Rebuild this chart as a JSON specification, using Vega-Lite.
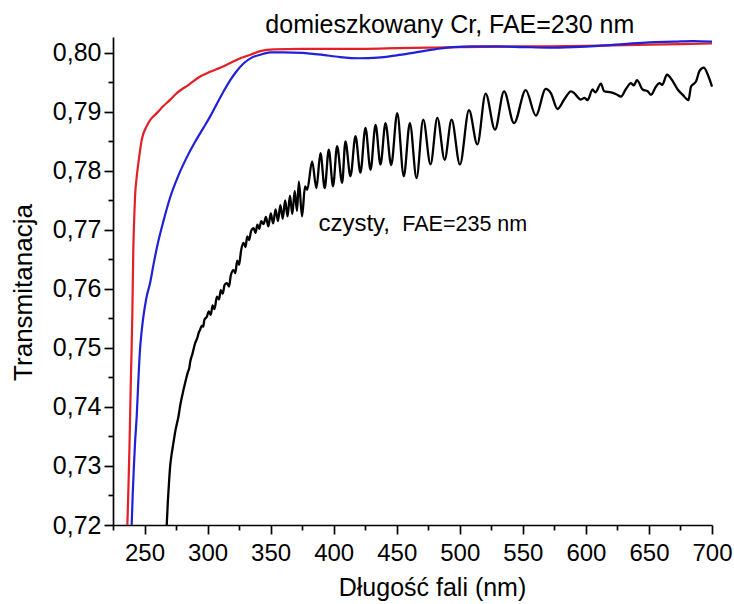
{
  "$schema": "https://vega.github.io/schema/vega-lite/v6.json",
  "width": 599,
  "height": 488,
  "autosize": {"type": "none"},
  "padding": {"left": 113, "top": 37, "right": 22, "bottom": 79},
  "background": "white",
  "config": {
    "view": {"stroke": null},
    "font": "Liberation Sans",
    "text": {"font": "Liberation Sans", "color": "#000"},
    "axis": {
      "grid": false,
      "domainColor": "#000",
      "domainWidth": 1.7,
      "tickColor": "#000",
      "tickWidth": 1.7,
      "labelFont": "Liberation Sans",
      "labelColor": "#000",
      "labelFlush": false,
      "labelOverlap": false,
      "titleFont": "Liberation Sans",
      "titleFontWeight": "normal",
      "titleColor": "#000"
    }
  },
  "datasets": {
    "dom_red": [
      {"x": 236.4, "y": 0.7200}, {"x": 237.2, "y": 0.7260}, {"x": 238.0, "y": 0.7327}, {"x": 239.1, "y": 0.7440},
      {"x": 240.3, "y": 0.7553}, {"x": 241.1, "y": 0.7666}, {"x": 242.0, "y": 0.7730}, {"x": 242.5, "y": 0.7757},
      {"x": 243.8, "y": 0.7790}, {"x": 245.1, "y": 0.7813}, {"x": 247.8, "y": 0.7853}, {"x": 251.7, "y": 0.7876},
      {"x": 255.0, "y": 0.7888}, {"x": 259.7, "y": 0.7898}, {"x": 265.0, "y": 0.7910}, {"x": 270.0, "y": 0.7920},
      {"x": 275.6, "y": 0.7932}, {"x": 285.0, "y": 0.7946}, {"x": 294.1, "y": 0.7960}, {"x": 302.0, "y": 0.7968},
      {"x": 310.0, "y": 0.7975}, {"x": 318.0, "y": 0.7983}, {"x": 325.9, "y": 0.7991}, {"x": 334.0, "y": 0.7997},
      {"x": 341.8, "y": 0.8003}, {"x": 352.4, "y": 0.8006}, {"x": 375.0, "y": 0.8007}, {"x": 400.0, "y": 0.8007},
      {"x": 425.0, "y": 0.8007}, {"x": 450.0, "y": 0.8008}, {"x": 475.0, "y": 0.8009}, {"x": 500.0, "y": 0.8010},
      {"x": 550.0, "y": 0.8011}, {"x": 600.0, "y": 0.8012}, {"x": 650.0, "y": 0.8014}, {"x": 700.0, "y": 0.8016}
    ],
    "dom_blue": [
      {"x": 239.8, "y": 0.7200}, {"x": 240.6, "y": 0.7250}, {"x": 241.6, "y": 0.7300}, {"x": 242.5, "y": 0.7340},
      {"x": 243.8, "y": 0.7384}, {"x": 245.0, "y": 0.7440}, {"x": 246.4, "y": 0.7497}, {"x": 247.8, "y": 0.7530},
      {"x": 249.1, "y": 0.7553}, {"x": 251.5, "y": 0.7585}, {"x": 254.4, "y": 0.7610}, {"x": 257.0, "y": 0.7640},
      {"x": 259.7, "y": 0.7669}, {"x": 265.0, "y": 0.7715}, {"x": 270.3, "y": 0.7755}, {"x": 277.0, "y": 0.7793},
      {"x": 283.5, "y": 0.7823}, {"x": 290.0, "y": 0.7849}, {"x": 296.7, "y": 0.7873}, {"x": 302.0, "y": 0.7892},
      {"x": 307.4, "y": 0.7914}, {"x": 313.0, "y": 0.7936}, {"x": 318.0, "y": 0.7954}, {"x": 323.0, "y": 0.7969},
      {"x": 328.5, "y": 0.7982}, {"x": 335.0, "y": 0.7992}, {"x": 341.8, "y": 0.7997}, {"x": 349.7, "y": 0.8001},
      {"x": 360.0, "y": 0.8001}, {"x": 375.0, "y": 0.8000}, {"x": 390.0, "y": 0.7997}, {"x": 405.0, "y": 0.7993},
      {"x": 420.0, "y": 0.7991}, {"x": 435.0, "y": 0.7992}, {"x": 450.0, "y": 0.7996}, {"x": 465.0, "y": 0.8001},
      {"x": 480.0, "y": 0.8006}, {"x": 495.0, "y": 0.8010}, {"x": 510.0, "y": 0.8011}, {"x": 530.0, "y": 0.8011},
      {"x": 550.0, "y": 0.8010}, {"x": 570.0, "y": 0.8009}, {"x": 590.0, "y": 0.8010}, {"x": 610.0, "y": 0.8012},
      {"x": 630.0, "y": 0.8015}, {"x": 650.0, "y": 0.8018}, {"x": 670.0, "y": 0.8019}, {"x": 685.0, "y": 0.8020},
      {"x": 700.0, "y": 0.8019}
    ],
    "czysty": [
      {"x": 267.6, "y": 0.7200}, {"x": 268.5, "y": 0.7240}, {"x": 269.5, "y": 0.7275}, {"x": 270.3, "y": 0.7299},
      {"x": 271.5, "y": 0.7320}, {"x": 272.9, "y": 0.7339}, {"x": 274.5, "y": 0.7360}, {"x": 276.9, "y": 0.7384},
      {"x": 278.5, "y": 0.7405}, {"x": 280.9, "y": 0.7429}, {"x": 283.0, "y": 0.7448}, {"x": 284.5, "y": 0.7460},
      {"x": 285.5, "y": 0.7466}, {"x": 286.2, "y": 0.7476}, {"x": 288.0, "y": 0.7490}, {"x": 290.1, "y": 0.7508},
      {"x": 292.0, "y": 0.7518}, {"x": 293.0, "y": 0.7526}, {"x": 294.1, "y": 0.7531}, {"x": 295.5, "y": 0.7538},
      {"x": 296.5, "y": 0.7536}, {"x": 297.5, "y": 0.7548}, {"x": 299.4, "y": 0.7553}, {"x": 301.0, "y": 0.7562},
      {"x": 302.5, "y": 0.7556}, {"x": 304.0, "y": 0.7572}, {"x": 305.5, "y": 0.7566}, {"x": 307.4, "y": 0.7587},
      {"x": 309.0, "y": 0.7582}, {"x": 310.5, "y": 0.7598}, {"x": 312.0, "y": 0.7592}, {"x": 313.5, "y": 0.7607},
      {"x": 315.3, "y": 0.7610}, {"x": 317.0, "y": 0.7604}, {"x": 318.5, "y": 0.7624}, {"x": 320.6, "y": 0.7632},
      {"x": 322.0, "y": 0.7627}, {"x": 323.5, "y": 0.7648}, {"x": 325.0, "y": 0.7641}, {"x": 326.5, "y": 0.7664},
      {"x": 328.5, "y": 0.7678}, {"x": 330.0, "y": 0.7671}, {"x": 331.5, "y": 0.7689}, {"x": 333.0, "y": 0.7683},
      {"x": 334.5, "y": 0.7698}, {"x": 336.5, "y": 0.7703}, {"x": 338.0, "y": 0.7695}, {"x": 339.5, "y": 0.7709},
      {"x": 341.0, "y": 0.7702}, {"x": 342.5, "y": 0.7715}, {"x": 344.4, "y": 0.7710},
      {"x": 346.3, "y": 0.7722}, {"x": 348.2, "y": 0.7706}, {"x": 350.1, "y": 0.7728}, {"x": 352.0, "y": 0.7711},
      {"x": 353.9, "y": 0.7735}, {"x": 355.8, "y": 0.7715}, {"x": 357.7, "y": 0.7742}, {"x": 359.6, "y": 0.7719},
      {"x": 361.5, "y": 0.7750}, {"x": 363.4, "y": 0.7723}, {"x": 365.3, "y": 0.7758}, {"x": 367.2, "y": 0.7727},
      {"x": 369.1, "y": 0.7766}, {"x": 370.9, "y": 0.7732}, {"x": 372.4, "y": 0.7782}, {"x": 374.9, "y": 0.7723},
      {"x": 377.3, "y": 0.7774}, {"x": 379.0, "y": 0.7768}, {"x": 382.9, "y": 0.7816},
      {"x": 386.3, "y": 0.7771}, {"x": 389.5, "y": 0.7830}, {"x": 392.9, "y": 0.7771}, {"x": 396.1, "y": 0.7836},
      {"x": 399.5, "y": 0.7774}, {"x": 402.7, "y": 0.7842}, {"x": 406.7, "y": 0.7780}, {"x": 409.3, "y": 0.7850},
      {"x": 413.3, "y": 0.7791}, {"x": 417.3, "y": 0.7859}, {"x": 421.2, "y": 0.7797}, {"x": 425.2, "y": 0.7873},
      {"x": 429.2, "y": 0.7802}, {"x": 433.2, "y": 0.7878}, {"x": 437.1, "y": 0.7811}, {"x": 441.1, "y": 0.7881},
      {"x": 445.6, "y": 0.7810}, {"x": 450.4, "y": 0.7898}, {"x": 455.6, "y": 0.7791}, {"x": 460.4, "y": 0.7881},
      {"x": 465.7, "y": 0.7788}, {"x": 471.0, "y": 0.7887}, {"x": 476.8, "y": 0.7811}, {"x": 482.2, "y": 0.7890},
      {"x": 488.0, "y": 0.7819}, {"x": 493.5, "y": 0.7887}, {"x": 500.1, "y": 0.7811}, {"x": 507.3, "y": 0.7903},
      {"x": 513.9, "y": 0.7845}, {"x": 520.5, "y": 0.7931}, {"x": 527.9, "y": 0.7870}, {"x": 535.1, "y": 0.7935},
      {"x": 543.0, "y": 0.7881}, {"x": 552.3, "y": 0.7937}, {"x": 560.3, "y": 0.7894}, {"x": 568.2, "y": 0.7939},
      {"x": 572.2, "y": 0.7932}, {"x": 577.5, "y": 0.7905}, {"x": 582.8, "y": 0.7921}, {"x": 588.1, "y": 0.7935},
      {"x": 590.7, "y": 0.7932}, {"x": 594.0, "y": 0.7924}, {"x": 596.0, "y": 0.7921}, {"x": 599.0, "y": 0.7924},
      {"x": 601.3, "y": 0.7920}, {"x": 605.3, "y": 0.7938}, {"x": 607.5, "y": 0.7933}, {"x": 611.9, "y": 0.7948},
      {"x": 614.5, "y": 0.7935}, {"x": 619.9, "y": 0.7933}, {"x": 624.0, "y": 0.7930}, {"x": 627.8, "y": 0.7926},
      {"x": 631.8, "y": 0.7939}, {"x": 635.7, "y": 0.7949}, {"x": 638.0, "y": 0.7945}, {"x": 640.5, "y": 0.7954},
      {"x": 645.0, "y": 0.7938}, {"x": 649.0, "y": 0.7935}, {"x": 651.6, "y": 0.7929}, {"x": 655.6, "y": 0.7943},
      {"x": 658.2, "y": 0.7949}, {"x": 660.5, "y": 0.7946}, {"x": 664.3, "y": 0.7963}, {"x": 668.9, "y": 0.7952},
      {"x": 672.8, "y": 0.7938}, {"x": 676.8, "y": 0.7929}, {"x": 681.3, "y": 0.7920}, {"x": 683.4, "y": 0.7943},
      {"x": 687.4, "y": 0.7952}, {"x": 690.0, "y": 0.7969}, {"x": 693.5, "y": 0.7975}, {"x": 696.7, "y": 0.7963},
      {"x": 700.0, "y": 0.7943}
    ]
  },
  "resolve": {"axis": {"x": "independent", "y": "independent"}},
  "layer": [
    {
      "data": {"name": "dom_red"},
      "mark": {"type": "line", "color": "#e41f26", "strokeWidth": 2.2, "interpolate": "monotone"},
      "encoding": {
        "x": {
          "field": "x",
          "type": "quantitative",
          "scale": {"domain": [225, 700], "nice": false, "zero": false},
          "axis": {
            "orient": "bottom",
            "values": [250, 300, 350, 400, 450, 500, 550, 600, 650, 700],
            "title": "Długość fali (nm)",
            "tickSize": 9,
            "labelFontSize": 24,
            "labelPadding": 7,
            "titleFontSize": 25,
            "titleX": 319,
            "titleY": 70,
            "titleBaseline": "alphabetic",
            "titleAlign": "center"
          }
        },
        "y": {
          "field": "y",
          "type": "quantitative",
          "scale": {"domain": [0.72, 0.8027], "nice": false, "zero": false},
          "axis": {
            "orient": "left",
            "values": [0.72, 0.73, 0.74, 0.75, 0.76, 0.77, 0.78, 0.79, 0.80],
            "labelExpr": "replace(format(datum.value, '.2f'), '.', ',')",
            "title": "Transmitanacja",
            "tickSize": 9,
            "labelFontSize": 25,
            "labelPadding": 3,
            "titleFontSize": 26,
            "titleX": -82,
            "titleY": 255,
            "titleBaseline": "alphabetic",
            "titleAlign": "center"
          }
        }
      }
    },
    {
      "data": {"name": "dom_blue"},
      "mark": {"type": "line", "color": "#2020d8", "strokeWidth": 2.2, "interpolate": "monotone"},
      "encoding": {
        "x": {
          "field": "x",
          "type": "quantitative",
          "scale": {"domain": [225, 700], "nice": false, "zero": false},
          "axis": {
            "orient": "bottom",
            "values": [225, 275, 325, 375, 425, 475, 525, 575, 625, 675],
            "title": null,
            "labels": false,
            "domain": false,
            "tickSize": 5
          }
        },
        "y": {
          "field": "y",
          "type": "quantitative",
          "scale": {"domain": [0.72, 0.8027], "nice": false, "zero": false},
          "axis": {
            "orient": "left",
            "values": [0.725, 0.735, 0.745, 0.755, 0.765, 0.775, 0.785, 0.795],
            "title": null,
            "labels": false,
            "domain": false,
            "tickSize": 5
          }
        }
      }
    },
    {
      "data": {"name": "czysty"},
      "mark": {"type": "line", "color": "#000000", "strokeWidth": 2.3, "interpolate": "monotone"},
      "encoding": {
        "x": {"field": "x", "type": "quantitative", "axis": null},
        "y": {"field": "y", "type": "quantitative", "axis": null}
      }
    },
    {
      "data": {"values": [{"t": "domieszkowany Cr, FAE=230 nm"}]},
      "mark": {"type": "text", "align": "left", "baseline": "alphabetic", "fontSize": 25},
      "encoding": {
        "x": {"datum": 345.8, "type": "quantitative", "axis": null},
        "y": {"datum": 0.80345, "type": "quantitative", "axis": null},
        "text": {"field": "t"}
      }
    },
    {
      "data": {"values": [{"t": "czysty,"}]},
      "mark": {"type": "text", "align": "left", "baseline": "alphabetic", "fontSize": 24},
      "encoding": {
        "x": {"datum": 387.9, "type": "quantitative", "axis": null},
        "y": {"datum": 0.7699, "type": "quantitative", "axis": null},
        "text": {"field": "t"}
      }
    },
    {
      "data": {"values": [{"t": "FAE=235 nm"}]},
      "mark": {"type": "text", "align": "left", "baseline": "alphabetic", "fontSize": 21.5},
      "encoding": {
        "x": {"datum": 454.4, "type": "quantitative", "axis": null},
        "y": {"datum": 0.7699, "type": "quantitative", "axis": null},
        "text": {"field": "t"}
      }
    }
  ]
}
